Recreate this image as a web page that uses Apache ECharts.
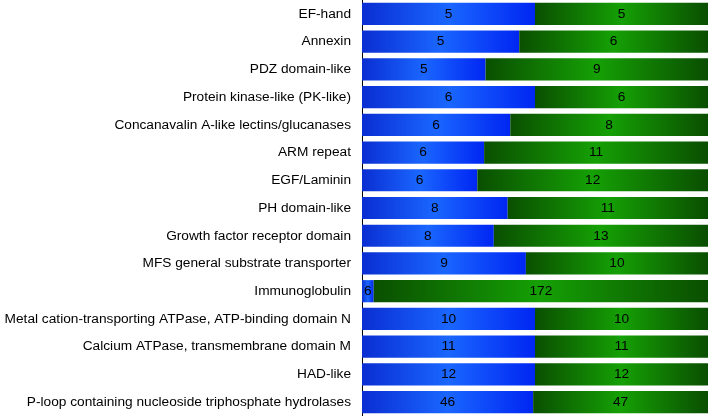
<!DOCTYPE html>
<html>
<head>
<meta charset="utf-8">
<script src="https://cdn.jsdelivr.net/npm/echarts@6/dist/echarts.min.js"></script>
<style>html,body{margin:0;padding:0;background:#fff}#c{width:708px;height:416px}</style>
</head>
<body>
<div id="c"></div>
<script>
const categories = [
  "EF-hand",
  "Annexin",
  "PDZ domain-like",
  "Protein kinase-like (PK-like)",
  "Concanavalin A-like lectins/glucanases",
  "ARM repeat",
  "EGF/Laminin",
  "PH domain-like",
  "Growth factor receptor domain",
  "MFS general substrate transporter",
  "Immunoglobulin",
  "Metal cation-transporting ATPase, ATP-binding domain N",
  "Calcium ATPase, transmembrane domain M",
  "HAD-like",
  "P-loop containing nucleoside triphosphate hydrolases"
];
const blueCounts = [5, 5, 5, 6, 6, 6, 6, 8, 8, 9, 6, 10, 11, 12, 46];
const greenCounts = [5, 6, 9, 6, 8, 11, 12, 11, 13, 10, 172, 10, 11, 12, 47];

const blueData = blueCounts.map((v, i) => ({ value: 100 * v / (v + greenCounts[i]), raw: v }));
const greenData = greenCounts.map((v, i) => ({ value: 100 * v / (v + blueCounts[i]), raw: v }));

function blueGrad() {
  return { type: 'linear', x: 0, y: 0, x2: 1, y2: 0, global: false, colorStops: [
    { offset: 0, color: '#0a2ed2' },
    { offset: 0.5, color: '#1a66ff' },
    { offset: 1, color: '#0026f2' }
  ]};
}
function greenGrad() {
  return { type: 'linear', x: 0, y: 0, x2: 1, y2: 0, global: false, colorStops: [
    { offset: 0, color: '#0a4f00' },
    { offset: 0.5, color: '#15a005' },
    { offset: 1, color: '#0a4e00' }
  ]};
}
blueData.forEach(d => { d.itemStyle = { color: blueGrad() }; });
greenData.forEach(d => { d.itemStyle = { color: greenGrad() }; });

const chart = echarts.init(document.getElementById('c'), null, { renderer: 'canvas' });
const lbl = {
  show: true, position: 'inside', color: '#000', fontSize: 13.7,
  fontFamily: 'Liberation Sans, Arial, sans-serif',
  formatter: p => p.data.raw
};
chart.setOption({
  animation: false,
  backgroundColor: '#fff',
  grid: { left: 362, right: 0, top: 0, bottom: 0, containLabel: false },
  xAxis: { type: 'value', min: 0, max: 100, show: false },
  yAxis: {
    type: 'category', data: categories, inverse: true,
    axisLine: { show: true, lineStyle: { color: '#000', width: 1 } },
    axisTick: { show: false },
    axisLabel: { color: '#000', fontSize: 13.7, margin: 11, fontFamily: 'Liberation Sans, Arial, sans-serif' },
    splitLine: { show: false }
  },
  series: [
    { type: 'bar', stack: 'a', data: blueData, barCategoryGap: '20%', label: lbl },
    { type: 'bar', stack: 'a', data: greenData, barCategoryGap: '20%', label: lbl }
  ]
});
</script>
</body>
</html>
